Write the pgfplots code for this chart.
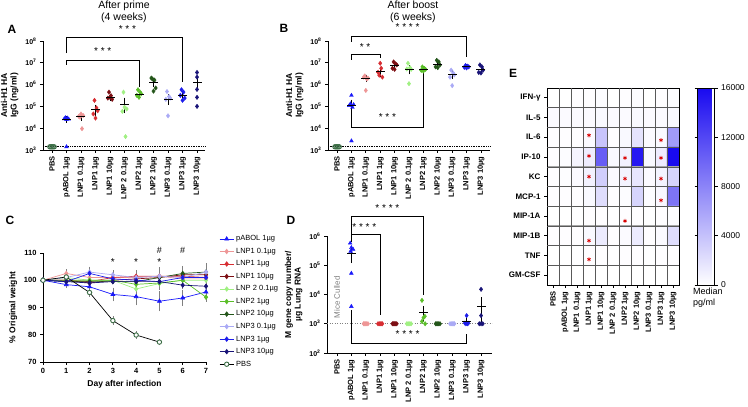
\documentclass[border=0pt]{standalone}
\usepackage{fontspec}
\setmainfont{Liberation Sans}
\usepackage{pgfplots}
\pgfplotsset{compat=1.18}

\definecolor{cpab}{RGB}{25,25,250}
\definecolor{cla}{RGB}{238,150,150}
\definecolor{clb}{RGB}{215,45,50}
\definecolor{clc}{RGB}{125,15,20}
\definecolor{c2a}{RGB}{160,240,130}
\definecolor{c2b}{RGB}{90,190,40}
\definecolor{c2c}{RGB}{35,85,25}
\definecolor{c3a}{RGB}{170,170,245}
\definecolor{c3b}{RGB}{30,30,235}
\definecolor{c3c}{RGB}{25,20,120}
\definecolor{cpbs}{RGB}{60,110,70}

\newcommand{\tk}{\bfseries\fontsize{7.5}{8.5}\selectfont}
\newcommand{\lb}{\bfseries\fontsize{8.5}{9.5}\selectfont}
\newcommand{\st}{\fontsize{10}{10}\selectfont}

\pgfplotsset{
  mybase/.style={scale only axis, axis lines*=left, axis line style={-,line width=0.9pt},
    tick align=outside, major tick length=3pt, every tick/.style={black,line width=0.8pt},
    clip=false, tick label style={font=\tk}, label style={font=\lb}},
  mycat/.style={xtick={0,...,10},
    xticklabels={PBS,pABOL 1µg,LNP1 0.1µg,LNP1 1µg,LNP1 10µg,LNP 2 0.1µg,LNP2 1µg,LNP2 10µg,LNP3 0.1µg,LNP3 1µg,LNP3 10µg},
    x tick label style={rotate=90,anchor=east},
    y tick label style={font=\bfseries\fontsize{7}{8}\selectfont},
    ylabel style={align=center}},
  eb/.style={error bars/y dir=both, error bars/y explicit,
    error bars/error bar style={gray,line width=0.5pt},
    error bars/error mark options={gray,mark size=2pt,line width=0.5pt}},
}
\newcommand{\pts}[3]{\addplot[only marks, mark=#2, mark size=2.2pt, color=#1, mark options={fill=#1}] coordinates {#3};}
\newcommand{\msem}[1]{\addplot[only marks, mark=-, mark size=4.5pt, black, mark options={line width=0.8pt},
  error bars/y dir=both, error bars/y explicit, error bars/error bar style={black,line width=0.6pt},
  error bars/error mark options={black,mark size=2.2pt,line width=0.6pt}] coordinates {#1};}

\begin{document}
\begin{tikzpicture}
\path[use as bounding box] (0pt,0pt) rectangle (748pt,407pt);

% ---------- A ----------
\begin{axis}[mybase, mycat, ymode=log, yminorticks=false,
  at={(43pt,257pt)}, anchor=south west, width=162pt, height=109pt,
  xmin=-0.62, xmax=10.55, ymin=1e3, ymax=1e8,
  ytick={1e3,1e4,1e5,1e6,1e7,1e8},
  yticklabels={10\textsuperscript{3},10\textsuperscript{4},10\textsuperscript{5},10\textsuperscript{6},10\textsuperscript{7},10\textsuperscript{8}},
  ylabel={Anti-H1 HA\\IgG (ng/ml)}]
\draw[densely dotted, line width=0.7pt] (axis cs:-0.62,1400) -- (axis cs:10.55,1400);
\addplot[only marks, mark=o, mark size=2.2pt, cpbs, mark options={line width=0.9pt}] coordinates {(-0.15,1400)(-0.07,1400)(0,1400)(0.07,1400)(0.15,1400)};
\pts{cpab}{triangle*}{(0.85,2.7e4)(0.93,3.0e4)(1.0,2.5e4)(1.07,2.9e4)(1.15,2.6e4)(1,1.4e3)}
\pts{cla}{diamond*}{(1.85,3.5e4)(1.93,3.2e4)(2.0,4.5e4)(2.07,9.5e3)(2.15,3.8e4)}
\pts{clb}{diamond*}{(2.85,4.5e4)(2.93,1.9e5)(3.0,2.9e4)(3.07,8.5e4)(3.15,6.3e4)}
\pts{clc}{diamond*}{(3.85,2.4e5)(3.93,4.5e5)(4.0,2.6e5)(4.07,3.1e5)(4.15,2.1e5)}
\pts{c2a}{diamond*}{(4.85,5.9e4)(4.93,4.5e5)(5.0,9.2e4)(5.07,4.1e3)(5.15,7.6e4)}
\pts{c2b}{diamond*}{(5.85,3.2e5)(5.93,5.8e5)(6.0,2.6e5)(6.07,4.5e5)(6.15,3.8e5)}
\pts{c2c}{diamond*}{(6.85,2.0e6)(6.93,1.8e6)(7.0,5e5)(7.07,1.6e6)(7.15,7e5)}
\pts{c3a}{diamond*}{(7.85,2.1e5)(7.93,4.8e5)(8.0,3.7e4)(8.07,2.8e5)(8.15,2.4e5)}
\pts{c3b}{diamond*}{(8.85,3.2e5)(8.93,5.8e5)(9.0,1.9e5)(9.07,4.5e5)(9.15,2.4e5)}
\pts{c3c}{diamond*}{(10,3.6e6)(10,2.2e6)(10,6e5)(10,2.6e5)(10,1e5)}
\msem{(1,2.6e4)+-(0,3e3) (2,3.4e4)+-(0,6e3) (3,7e4)+-(0,2.5e4) (4,2.6e5)+-(0,4e4) (5,1.3e5)+-(0,7e4) (6,3.5e5)+-(0,5e4) (7,1.3e6)+-(0,3e5) (8,2.2e5)+-(0,7e4) (9,3.3e5)+-(0,6e4) (10,1.3e6)+-(0,6e5)}
\draw[line width=0.7pt] (axis cs:1,2.8e7) |- (axis cs:9,1.4e8) -- (axis cs:9,1.3e6);
\draw[line width=0.7pt] (axis cs:1,8e6) |- (axis cs:6,1.35e7) -- (axis cs:6,8e5);
\node[font=\st] at (axis cs:5.2,3.4e8) {* * *};
\node[font=\st] at (axis cs:3.5,3.4e7) {* * *};
\end{axis}

% ---------- B ----------
\begin{axis}[mybase, mycat, ymode=log, yminorticks=false,
  at={(328pt,257pt)}, anchor=south west, width=162pt, height=109pt,
  xmin=-0.63, xmax=10.63, ymin=1e3, ymax=1e8,
  ytick={1e3,1e4,1e5,1e6,1e7,1e8},
  yticklabels={10\textsuperscript{3},10\textsuperscript{4},10\textsuperscript{5},10\textsuperscript{6},10\textsuperscript{7},10\textsuperscript{8}},
  ylabel={Anti-H1 HA\\IgG (ng/ml)}]
\draw[densely dotted, line width=0.7pt] (axis cs:-0.63,1400) -- (axis cs:10.63,1400);
\addplot[only marks, mark=o, mark size=2.2pt, cpbs, mark options={line width=0.9pt}] coordinates {(-0.15,1400)(-0.07,1400)(0,1400)(0.07,1400)(0.15,1400)};
\pts{cpab}{triangle*}{(0.85,1.1e5)(0.93,1.3e5)(1.0,3.2e5)(1.07,9e4)(1.15,1.2e5)(1,2.6e3)}
\pts{cla}{diamond*}{(1.85,2.2e6)(1.93,2.5e6)(2.0,5.4e5)(2.07,1.8e6)(2.15,2.0e6)}
\pts{clb}{diamond*}{(2.85,3.7e6)(2.93,2.7e6)(3.0,9.5e6)(3.07,5.6e6)(3.15,2.2e6)}
\pts{clc}{diamond*}{(3.85,5.6e6)(3.93,1.1e7)(4.0,5e6)(4.07,9e6)(4.15,8e6)}
\pts{c2a}{diamond*}{(4.85,5.2e6)(4.93,9.5e6)(5.0,1.1e6)(5.07,6e6)(5.15,5e6)}
\pts{c2b}{diamond*}{(5.85,4.5e6)(5.93,6.5e6)(6.0,4.2e6)(6.07,5.5e6)(6.15,5e6)}
\pts{c2c}{diamond*}{(6.85,6.5e6)(6.93,1.3e7)(7.0,6e6)(7.07,1.1e7)(7.15,8e6)}
\pts{c3a}{diamond*}{(7.85,2.2e6)(7.93,4.6e6)(8.0,9e5)(8.07,3.4e6)(8.15,2.8e6)}
\pts{c3b}{diamond*}{(8.85,6.2e6)(8.93,7.5e6)(9.0,5.8e6)(9.07,7e6)(9.15,6.5e6)}
\pts{c3c}{diamond*}{(9.85,3.6e6)(9.93,8e6)(10.0,3.4e6)(10.07,6.5e6)(10.15,4.6e6)}
\msem{(1,1.1e5)+-(0,5e4) (2,2e6)+-(0,3e5) (3,4e6)+-(0,1.3e6) (4,7.5e6)+-(0,1.2e6) (5,5e6)+-(0,1.3e6) (6,5e6)+-(0,4e5) (7,8.5e6)+-(0,1.3e6) (8,3e6)+-(0,6e5) (9,6.5e6)+-(0,3e5) (10,5e6)+-(0,9e5)}
\draw[line width=0.7pt] (axis cs:1,9e7) |- (axis cs:9,1.7e8) -- (axis cs:9,1.9e7);
\draw[line width=0.7pt] (axis cs:1,1.35e7) |- (axis cs:3,2.5e7) -- (axis cs:3,1.66e7);
\draw[line width=0.7pt] (axis cs:1,5.5e4) |- (axis cs:6,1.1e4) -- (axis cs:6,3.8e6);
\node[font=\st] at (axis cs:4.9,4.2e8) {* * * *};
\node[font=\st] at (axis cs:1.95,5.4e7) {* *};
\node[font=\st] at (axis cs:3.5,3.2e4) {* * *};
\end{axis}

% ---------- C ----------
\begin{axis}[mybase, at={(43pt,45pt)}, anchor=south west, width=163pt, height=109pt,
  xmin=0, xmax=7, ymin=70, ymax=110, xtick={0,...,7}, ytick={70,80,...,110},
  /pgf/number format/assume math mode=true,
  xlabel={Day after infection}, ylabel={\% Original weight},
  legend style={at={(1.08,1.18)}, anchor=north west, draw=none, fill=none,
    font=\fontsize{7.5}{8.5}\selectfont, row sep=1.8pt, inner sep=0pt},
  legend cell align=left,
  legend image code/.code={\draw[mark repeat=2,mark phase=2,#1] plot coordinates {(0cm,0cm) (0.25cm,0cm) (0.5cm,0cm)};}]
\addplot[cpab, line width=0.7pt, mark=triangle*, mark size=2.2pt, mark options={fill=cpab}, eb] coordinates {(0,100) (1,98.4)+-(0,0.6) (2,97.6)+-(0,1) (3,94.8)+-(0,1.8) (4,94)+-(0,2.5) (5,92.3)+-(0,3) (6,93.5)+-(0,2.2) (7,95.7)+-(0,1.5)};
\addlegendentry{pABOL 1µg}
\addplot[cla, line width=0.7pt, mark=diamond*, mark size=2.2pt, mark options={fill=cla}, eb] coordinates {(0,100) (1,102.5)+-(0,0.8) (2,101)+-(0,1) (3,101)+-(0,1.2) (4,101)+-(0,1) (5,101.5)+-(0,1.5) (6,100.5)+-(0,1) (7,100.5)+-(0,1)};
\addlegendentry{LNP1 0.1µg}
\addplot[clb, line width=0.7pt, mark=diamond*, mark size=2.2pt, mark options={fill=clb}, eb] coordinates {(0,100) (1,100) (2,99.5) (3,101)+-(0,1) (4,101.5)+-(0,1.5) (5,101.5)+-(0,1) (6,101.5)+-(0,1) (7,101)+-(0,1)};
\addlegendentry{LNP1 1µg}
\addplot[clc, line width=0.7pt, mark=diamond*, mark size=2.2pt, mark options={fill=clc}] coordinates {(0,100) (1,100) (2,99) (3,100) (4,100.5) (5,101) (6,102) (7,102)};
\addlegendentry{LNP1 10µg}
\addplot[c2a, line width=0.7pt, mark=diamond*, mark size=2.2pt, mark options={fill=c2a}, eb] coordinates {(0,100) (1,101) (2,100) (3,100) (4,96.8)+-(0,1.2) (5,98.8)+-(0,1.5) (6,100) (7,100)};
\addlegendentry{LNP 2 0.1µg}
\addplot[c2b, line width=0.7pt, mark=diamond*, mark size=2.2pt, mark options={fill=c2b}, eb] coordinates {(0,100) (1,100) (2,100) (3,100) (4,98.5)+-(0,1.5) (5,99)+-(0,1) (6,100) (7,93.8)+-(0,1)};
\addlegendentry{LNP2 1µg}
\addplot[c2c, line width=0.7pt, mark=diamond*, mark size=2.2pt, mark options={fill=c2c}, eb] coordinates {(0,100) (1,99.5) (2,99.5) (3,99.5) (4,99.5) (5,101) (6,102.5)+-(0,2) (7,103)+-(0,1)};
\addlegendentry{LNP2 10µg}
\addplot[c3a, line width=0.7pt, mark=diamond*, mark size=2.2pt, mark options={fill=c3a}, eb] coordinates {(0,100) (1,101) (2,103)+-(0,1.3) (3,102)+-(0,1) (4,101) (5,101.5)+-(0,2.5) (6,101) (7,103)+-(0,2.5)};
\addlegendentry{LNP3 0.1µg}
\addplot[c3b, line width=0.7pt, mark=diamond*, mark size=2.2pt, mark options={fill=c3b}] coordinates {(0,100) (1,99.5) (2,102.5) (3,100.5) (4,100) (5,99.5) (6,101) (7,101)};
\addlegendentry{LNP3 1µg}
\addplot[c3c, line width=0.7pt, mark=diamond*, mark size=2.2pt, mark options={fill=c3c}, eb] coordinates {(0,100) (1,99.5) (2,99) (3,99.5) (4,99.5) (5,99.5) (6,98.2)+-(0,0.8) (7,97.8)+-(0,1)};
\addlegendentry{LNP3 10µg}
\addplot[black, line width=0.7pt, mark=*, mark size=2.2pt, mark options={draw=cpbs, fill=white, line width=0.9pt}, eb] coordinates {(0,100) (1,101.2) (2,95.5)+-(0,0.8) (3,85.2)+-(0,0.8) (4,79.9)+-(0,0.8) (5,77.3)+-(0,0.5)};
\addlegendentry{PBS}
\node[font=\st] at (axis cs:3,106.8) {*};
\node[font=\st] at (axis cs:4,106.8) {*};
\node[font=\st] at (axis cs:5,106.8) {*};
\node[font=\fontsize{9}{9}\selectfont] at (axis cs:5,110.8) {\#};
\node[font=\fontsize{9}{9}\selectfont] at (axis cs:6,110.8) {\#};
\end{axis}

% ---------- D ----------
\begin{axis}[mybase, mycat, ymode=log, yminorticks=false,
  at={(327pt,54pt)}, anchor=south west, width=165pt, height=117pt,
  xmin=-0.69, xmax=10.76, ymin=1e2, ymax=1e6,
  ytick={1e2,1e3,1e4,1e5,1e6},
  yticklabels={10\textsuperscript{2},10\textsuperscript{3},10\textsuperscript{4},10\textsuperscript{5},10\textsuperscript{6}},
  ylabel={M gene copy number/\\µg Lung RNA}]
\draw[gray, line width=0.7pt, dash pattern=on 1pt off 1.5pt] (axis cs:-0.69,1000) -- (axis cs:10.76,1000);
\node[rotate=90, gray, font=\fontsize{8}{8}\selectfont] at (axis cs:0,8e3) {Mice Culled};
\pts{cpab}{triangle*}{(0.92,5.7e5)(1.0,4e5)(1.12,3.5e5)(0.95,3e5)(1.0,5.3e4)(1.0,3.9e3)}
\pts{cla}{diamond*}{(1.85,1e3)(1.93,1e3)(2.0,1e3)(2.07,1e3)(2.15,1e3)}
\pts{clb}{diamond*}{(2.85,1e3)(2.93,1e3)(3.0,1e3)(3.07,1e3)(3.15,1e3)}
\pts{clc}{diamond*}{(3.85,1e3)(3.93,1e3)(4.0,1e3)(4.07,1e3)(4.15,1e3)}
\pts{c2a}{diamond*}{(4.85,1e3)(4.93,1e3)(5.0,1e3)(5.07,1e3)(5.15,1e3)}
\pts{c2b}{diamond*}{(5.9,6.3e3)(6.1,1.8e3)(6.0,1.6e3)(5.9,1.2e3)(6.12,1.0e3)}
\pts{c2c}{diamond*}{(6.85,1e3)(6.93,1e3)(7.0,1e3)(7.07,1e3)(7.15,1e3)}
\pts{c3a}{diamond*}{(7.85,1e3)(7.93,1e3)(8.0,1e3)(8.07,1e3)(8.15,1e3)}
\pts{c3b}{diamond*}{(9.0,1.9e3)(8.88,1.05e3)(9.12,1.05e3)(8.95,1e3)(9.05,1e3)}
\pts{c3c}{diamond*}{(10,1.5e4)(10,1.9e3)(9.88,1e3)(10.12,1e3)(10,1e3)}
\msem{(1,2.6e5)+-(0,1.2e5) (6,2.4e3)+-(0,1e3) (9,1.2e3)+-(0,1.5e2) (10,3.9e3)+-(0,2.8e3)}
\draw[line width=0.7pt] (axis cs:1,6.3e5) |- (axis cs:6,4.8e6) -- (axis cs:6,9.6e3);
\draw[line width=0.7pt] (axis cs:1,6.3e5) |- (axis cs:3,1.18e6) -- (axis cs:3,2e3);
\draw[line width=0.7pt] (axis cs:1,2950) |- (axis cs:9,219) -- (axis cs:9,447);
\node[font=\st] at (axis cs:3.5,8.8e6) {* * * *};
\node[font=\st] at (axis cs:1.9,2.1e6) {* * * *};
\node[font=\st] at (axis cs:4.9,440) {* * * *};
\end{axis}

% ---------- E ----------
\begin{axis}[at={(547pt,122pt)}, anchor=south west, scale only axis, width=132pt, height=197pt,
  xmin=-0.5, xmax=10.5, ymin=-0.5, ymax=9.5, y dir=reverse, axis on top,
  axis line style={line width=0.9pt},
  tick align=outside, major tick length=3pt, every tick/.style={black,line width=0.8pt},
  xtick pos=bottom, ytick pos=left, tick label style={font=\tk},
  xtick={0,...,10},
  xticklabels={PBS,pABOL 1µg,LNP1 0.1µg,LNP1 1µg,LNP1 10µg,LNP 2 0.1µg,LNP2 1µg,LNP2 10µg,LNP3 0.1µg,LNP3 1µg,LNP3 10µg},
  x tick label style={rotate=90,anchor=east},
  ytick={0,...,9},
  yticklabels={IFN-γ,IL-5,IL-6,IP-10,KC,MCP-1,MIP-1A,MIP-1B,TNF,GM-CSF},
  y tick label style={font=\bfseries\fontsize{8}{9}\selectfont},
  extra x ticks={0.5,1.5,...,9.5}, extra x tick labels={},
  extra x tick style={grid=major, major tick length=0pt},
  extra y ticks={0.5,1.5,...,8.5}, extra y tick labels={},
  extra y tick style={grid=major, major tick length=0pt},
  major grid style={black!65, line width=0.4pt},
  colormap={wb}{rgb255=(255,255,255) rgb255=(25,10,240)},
  point meta min=0, point meta max=16000,
  colorbar,
  colorbar style={at={(parent axis.north east)}, anchor=north west, xshift=10pt,
    width=17pt, ytick={0,4000,8000,12000,16000}, scaled y ticks=false,
    axis line style={line width=0.8pt},
    tick align=outside, major tick length=3pt,
    yticklabel style={font=\fontsize{8.5}{10}\selectfont, /pgf/number format/1000 sep={}, /pgf/number format/assume math mode=true}},
  clip=false]
\addplot[matrix plot*, mesh/cols=11, mesh/rows=10, point meta=explicit] table[row sep=\\, meta=c] {
x y c\\
0 0 0\\ 1 0 0\\ 2 0 100\\ 3 0 100\\ 4 0 200\\ 5 0 0\\ 6 0 100\\ 7 0 200\\ 8 0 0\\ 9 0 100\\ 10 0 200\\
0 1 300\\ 1 1 300\\ 2 1 300\\ 3 1 300\\ 4 1 400\\ 5 1 300\\ 6 1 300\\ 7 1 400\\ 8 1 300\\ 9 1 300\\ 10 1 400\\
0 2 100\\ 1 2 100\\ 2 2 100\\ 3 2 300\\ 4 2 3800\\ 5 2 100\\ 6 2 400\\ 7 2 1800\\ 8 2 300\\ 9 2 400\\ 10 2 6500\\
0 3 100\\ 1 3 200\\ 2 3 700\\ 3 3 1200\\ 4 3 10500\\ 5 3 400\\ 6 3 900\\ 7 3 15000\\ 8 3 400\\ 9 3 1200\\ 10 3 16000\\
0 4 100\\ 1 4 150\\ 2 4 300\\ 3 4 900\\ 4 4 3200\\ 5 4 300\\ 6 4 800\\ 7 4 1600\\ 8 4 300\\ 9 4 800\\ 10 4 2800\\
0 5 100\\ 1 5 100\\ 2 5 100\\ 3 5 400\\ 4 5 2200\\ 5 5 100\\ 6 5 200\\ 7 5 2800\\ 8 5 200\\ 9 5 500\\ 10 5 9000\\
0 6 0\\ 1 6 0\\ 2 6 50\\ 3 6 100\\ 4 6 100\\ 5 6 50\\ 6 6 100\\ 7 6 100\\ 8 6 50\\ 9 6 100\\ 10 6 200\\
0 7 100\\ 1 7 100\\ 2 7 100\\ 3 7 400\\ 4 7 1300\\ 5 7 100\\ 6 7 300\\ 7 7 1300\\ 8 7 100\\ 9 7 300\\ 10 7 2200\\
0 8 0\\ 1 8 0\\ 2 8 50\\ 3 8 100\\ 4 8 100\\ 5 8 50\\ 6 8 100\\ 7 8 100\\ 8 8 50\\ 9 8 100\\ 10 8 100\\
0 9 0\\ 1 9 0\\ 2 9 0\\ 3 9 0\\ 4 9 0\\ 5 9 0\\ 6 9 0\\ 7 9 0\\ 8 9 0\\ 9 9 0\\ 10 9 0\\
};
\draw[black!35, line width=1.2pt] (axis cs:-0.5,3.5) -- (axis cs:10.5,3.5);
\draw[black!35, line width=1.2pt] (axis cs:-0.5,6.5) -- (axis cs:10.5,6.5);
\addplot[only marks, mark=asterisk, mark size=2pt, red!85!black, mark options={line width=0.6pt}] coordinates {
(3,1.9)(9,2.15)(3,2.95)(6,3.05)(9,3.05)(3,4)(6,4.1)(9,4.1)(9,5.2)(6,6.25)(3,7.25)(3,8.2)};
\end{axis}

% ---------- labels and titles ----------
\node[font=\bfseries\fontsize{12}{12}\selectfont] at (12pt,378pt) {A};
\node[font=\bfseries\fontsize{12}{12}\selectfont] at (284pt,379pt) {B};
\node[font=\bfseries\fontsize{12}{12}\selectfont] at (10pt,187pt) {C};
\node[font=\bfseries\fontsize{12}{12}\selectfont] at (291pt,187pt) {D};
\node[font=\bfseries\fontsize{12}{12}\selectfont] at (513pt,334pt) {E};
\node[font=\fontsize{10.5}{12}\selectfont, align=center] at (124pt,395pt) {After prime\\(4 weeks)};
\node[font=\fontsize{10.5}{12}\selectfont, align=center] at (413pt,395pt) {After boost\\(6 weeks)};
\node[font=\fontsize{9}{11}\selectfont, align=left, anchor=north west, inner sep=0pt] at (693pt,119pt) {Median\\pg/ml};
\end{tikzpicture}
\end{document}
